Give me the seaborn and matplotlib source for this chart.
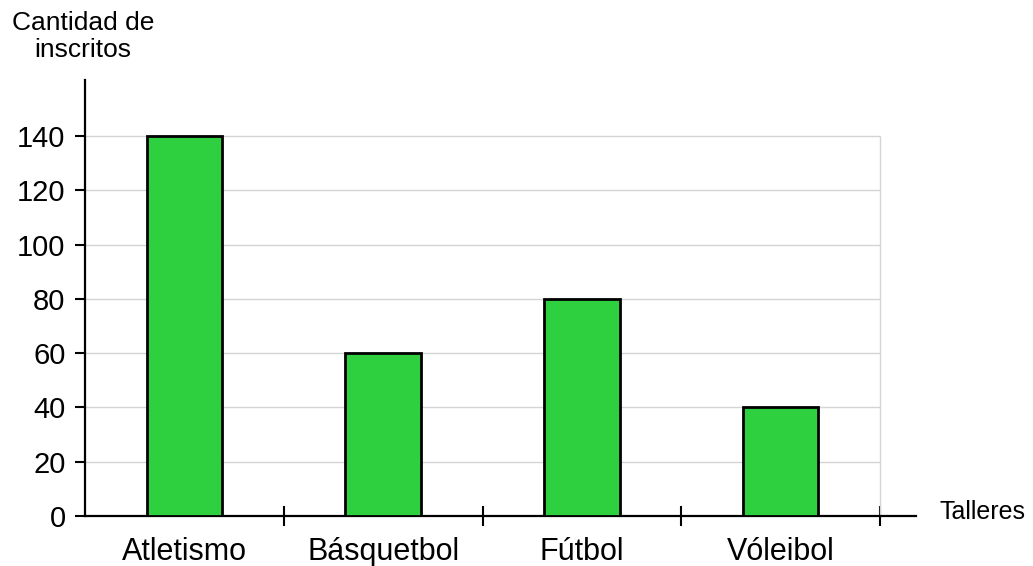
import matplotlib
matplotlib.use("Agg")
import matplotlib.pyplot as plt
import seaborn as sns
import pandas as pd

categories = ["Atletismo", "Básquetbol", "Fútbol", "Vóleibol"]
values = [140, 60, 80, 40]
yticks = [0, 20, 40, 60, 80, 100, 120, 140]
ylabel = "Cantidad de\ninscritos"
xlabel = "Talleres"

sns.set_style("white")
plt.rcParams['font.family'] = ['Liberation Sans', 'DejaVu Sans']
plt.rcParams['text.color'] = 'black'
plt.rcParams['xtick.color'] = 'black'
plt.rcParams['ytick.color'] = 'black'
plt.rcParams['axes.labelcolor'] = 'black'

df = pd.DataFrame({"taller": categories, "inscritos": values})

fig = plt.figure(figsize=(10.33, 5.66), dpi=100)
x0, x1 = 85, 916
ax = fig.add_axes([x0/1033, 1-516/566, (x1-x0)/1033, (516-80)/566])

sns.barplot(data=df, x="taller", y="inscritos", order=categories, color="#2fd03f",
            saturation=1, width=0.38, edgecolor="black", linewidth=2.0, ax=ax, zorder=3)

n = len(categories)
ax.set_xlim(-0.5, n - 0.5 + 36/199)
ax.set_ylim(0, 160.6)

ax.hlines(yticks[1:], -0.5, n - 0.5, colors="#d4d4d4", linewidth=1.0, zorder=1)
ax.vlines([n - 0.5], 0, yticks[-1], colors="#d4d4d4", linewidth=1.0, zorder=1)

for s in ["top", "right"]:
    ax.spines[s].set_visible(False)
for s in ["left", "bottom"]:
    ax.spines[s].set_linewidth(1.6)
    ax.spines[s].set_color("black")

ax.set_yticks(yticks)
ax.set_yticklabels([str(v) for v in yticks], fontsize=21)
ax.tick_params(axis="y", length=7, width=1.5, direction="out", pad=7, left=True)

ax.set_xticks(range(n))
ax.set_xticklabels(categories, fontsize=22)
ax.tick_params(axis="x", which="major", length=0, pad=15)
ax.set_xticks([i + 0.5 for i in range(n)], minor=True)
ax.tick_params(axis="x", which="minor", length=14, width=1.5, direction="inout", bottom=True)

ax.set_xlabel("")
ax.set_ylabel("")

fig.text(83/1033, 1-62/566, ylabel, ha="center", va="bottom", fontsize=19, linespacing=1.15)
fig.text(940/1033, 1-512/566, xlabel, ha="left", va="center", fontsize=18)

fig.savefig("out.png", dpi=100)
